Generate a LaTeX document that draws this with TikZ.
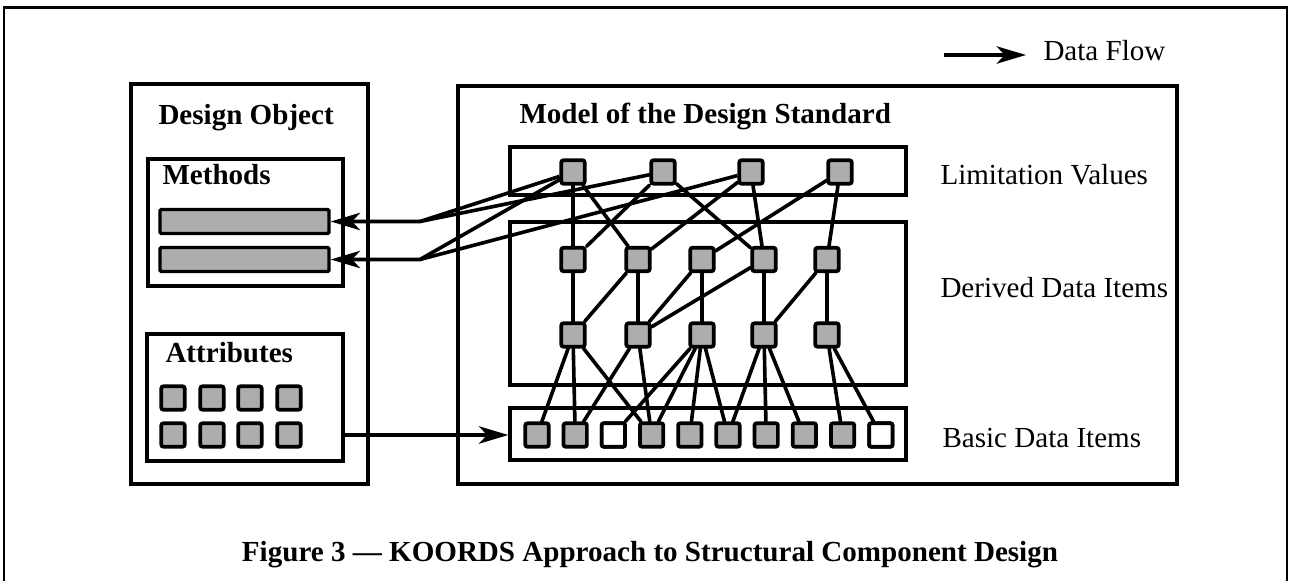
\documentclass[tikz,border=0pt]{standalone}
\usepackage{fontspec}
\setmainfont{Liberation Serif}
\usetikzlibrary{arrows.meta,fit,positioning}

\tikzset{every picture/.style={line width=0.75pt}}
\tikzset{
  boxframe/.style={draw, line width=2.5pt, inner sep=0pt},
  item/.style={draw, line width=2.8pt, fill=black!32, rounded corners=1.5pt, minimum size=17.5pt, inner sep=0pt},
  emptyitem/.style={item, fill=white},
  bar/.style={draw, line width=2.6pt, fill=black!32, rounded corners=1pt, inner sep=0pt},
  link/.style={line width=2.7pt, line cap=round, line join=round},
  flow/.style={line width=2.7pt, line join=round, -{Stealth[length=22pt,width=13pt,inset=6pt]}},
  headtext/.style={font=\fontsize{21.8}{26}\selectfont\bfseries, inner sep=0pt},
  sidetext/.style={font=\fontsize{21.8}{26}\selectfont, inner sep=0pt},
}

\begin{document}
\begin{tikzpicture}[x=0.75pt,y=0.75pt,yscale=-1,xscale=1]
    \useasboundingbox (0,0) rectangle (1290,581);

    %Outer frame, open at the bottom
    \draw [line width=2pt] (4,581) -- (4,7.5) -- (1287,7.5) -- (1287,581) ;

    %Legend
    \coordinate (dfstart) at (944,55) ;
    \node [sidetext, anchor=base west] (dflow) at (1043,61) {Data Flow} ;
    \draw [flow, shorten >=12.75pt] (dfstart) -- (dflow.west |- dfstart) ;

    %Shape: Rectangle [Design Object]
    \node [boxframe, fit={(131,84) (368,484)}] (dobj) {} ;
    \node [headtext, anchor=base west] (dobjtext) at (158,125) {Design Object} ;
    %Shape: Rectangle [Methods]
    \node [boxframe, fit={(148,159) (343,286)}] (meth) {} ;
    \node [headtext, anchor=base west] (methtext) at (162,184.5) {Methods} ;
    \node [bar, fit={(160,209.5) (329,233.5)}] (mt1) {} ;
    \node [bar, fit={(160,247.5) (329,271.5)}] (mt2) {} ;
    %Shape: Rectangle [Attributes]
    \node [boxframe, fit={(147,334) (343,461)}] (attr) {} ;
    \node [headtext, anchor=base west] (attrtext) at (165,362) {Attributes} ;
    \foreach \x [count=\i] in {173,212,250,289} {
        \node [item] (at\i) at (\x,398) {} ;
        \node [item] (ab\i) at (\x,435) {} ;
    }

    %Shape: Rectangle [Model of the Design Standard]
    \node [boxframe, fit={(458,86) (1177,484)}] (model) {} ;
    \node [headtext, anchor=base west] (modeltext) at (519,124) {Model of the Design Standard} ;
    \node [boxframe, fit={(510,147) (906,195)}] (limit) {} ;
    \node [boxframe, fit={(510,222) (906,385)}] (derived) {} ;
    \node [boxframe, fit={(510,408) (906,460)}] (basic) {} ;

    % Text Node
    \node [sidetext, anchor=base west] (limittext) at (940,185) {Limitation Values} ;
    % Text Node
    \node [sidetext, anchor=base west] (derivedtext) at (940,298) {Derived Data Items} ;
    % Text Node
    \node [sidetext, anchor=base west] (basictext) at (942,447) {Basic Data Items} ;

    %Data items
    \foreach \x [count=\i] in {573,663,751,840}
        \node [item] (lv\i) at (\x,172) {} ;
    \foreach \x [count=\i] in {573,638,702,764,827} {
        \node [item] (da\i) at (\x,259.5) {} ;
        \node [item] (db\i) at (\x,335) {} ;
    }
    \foreach \i in {1,...,10}
        \node [item] (bd\i) at (537+38.2*\i-38.2,435) {} ;
    \node [emptyitem] at (bd3) {} ;
    \node [emptyitem] at (bd10) {} ;

    %Straight Lines
    \foreach \a/\b in {lv1/da1,lv1/da2,lv2/da1,lv2/da4,lv3/da2,lv3/da4,lv4/da3,lv4/da5,
                       da1/db1,da2/db2,da3/db3,da4/db4,da5/db5,da2/db1,da3/db2,da4/db2,da5/db4,
                       db1/bd1,db1/bd2,db1/bd4,db2/bd2,db2/bd4,db3/bd3,db3/bd4,db3/bd5,db3/bd6,
                       db4/bd6,db4/bd7,db4/bd8,db5/bd9,db5/bd10}
        \draw [link] (\a) -- (\b) ;

    %Limitation values to methods
    \coordinate (bend1) at (420,221.5) ;
    \coordinate (bend2) at (420,259.5) ;
    \draw [flow] (lv1) -- (bend1) -- (mt1.east) ;
    \draw [link] (lv2) -- (bend1) ;
    \draw [flow] (lv3) -- (bend2) -- (mt2.east) ;
    \draw [link] (lv1) -- (bend2) ;

    %Attributes to basic data items
    \draw [flow] (attr.east |- bd1) -- (basic.west |- bd1) ;

    % Text Node
    \node [headtext, anchor=base] (caption) at (650,561) {Figure 3 --- KOORDS Approach to Structural Component Design} ;

\end{tikzpicture}
\end{document}
